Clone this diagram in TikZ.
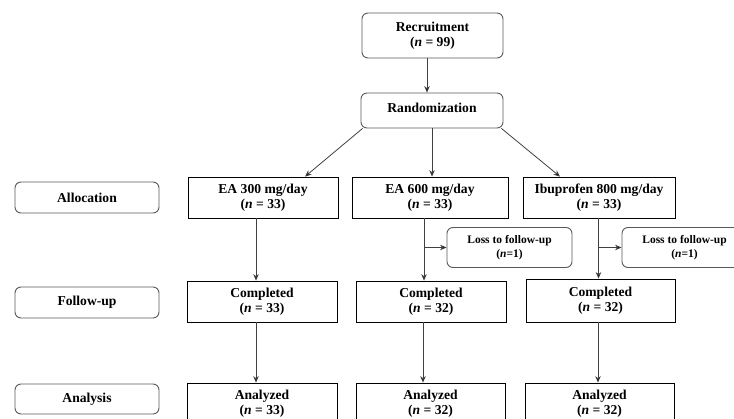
\documentclass[tikz,border=0pt]{standalone}
\usepackage{fontspec}
\setmainfont{Liberation Serif}
\usetikzlibrary{arrows.meta}
\tikzset{
  base/.style={draw, align=center, inner sep=0pt, font=\fontsize{13.6}{15.5}\selectfont\bfseries},
  rbox/.style={base, draw=black!65, rounded corners=6pt, line width=0.9pt},
  sbox/.style={base, draw=black, line width=0.8pt},
  lossbox/.style={rbox, font=\fontsize{11.5}{14}\selectfont\bfseries},
  arr/.style={draw=black!75, line width=0.8pt, -{Stealth[length=6.5pt,width=5.5pt,fill=black]}},
  ln/.style={draw=black!75, line width=0.8pt}
}
\newcommand{\nn}{\textit{n}}
\begin{document}
\begin{tikzpicture}[x=1pt,y=-1pt]
\useasboundingbox (0,0) rectangle (734,419);
% top
\node[rbox, minimum width=141pt, minimum height=45pt] (recr) at (432.5,35.5) {Recruitment\\(\nn{} = 99)};
\node[rbox, minimum width=142pt, minimum height=35pt] (rand) at (432,110.5) {\raisebox{5pt}{Randomization}};
% labels
\node[rbox, minimum width=144pt, minimum height=31pt] (alloc) at (87,197.5) {Allocation};
\node[rbox, minimum width=144pt, minimum height=31pt] (fup) at (87,302.5) {Follow-up};
\node[rbox, minimum width=144pt, minimum height=30pt] (anal) at (87,399) {Analysis};
% allocation
\node[sbox, minimum width=150pt, minimum height=41pt] (ea3) at (263,197.5) {EA 300 mg/day\\(\nn{} = 33)};
\node[sbox, minimum width=156pt, minimum height=41pt] (ea6) at (430,197.5) {EA 600 mg/day\\(\nn{} = 33)};
\node[sbox, minimum width=152pt, minimum height=41pt] (ibu) at (599,197.5) {Ibuprofen 800 mg/day\\(\nn{} = 33)};
% loss
\node[lossbox, minimum width=125pt, minimum height=40pt] (loss1) at (509.5,247.5) {Loss to follow-up\\(\nn{}=1)};
\node[lossbox, minimum width=125pt, minimum height=40pt] (loss2) at (684.5,247.5) {Loss to follow-up\\(\nn{}=1)};
% completed
\node[sbox, minimum width=150pt, minimum height=41pt] (c1) at (262,301.5) {Completed\\(\nn{} = 33)};
\node[sbox, minimum width=150pt, minimum height=41pt] (c2) at (431,301.5) {Completed\\(\nn{} = 32)};
\node[sbox, minimum width=149pt, minimum height=43pt] (c3) at (600.5,300.5) {Completed\\(\nn{} = 32)};
% analyzed
\node[sbox, minimum width=150pt, minimum height=41pt] (a1) at (262,403.5) {Analyzed\\(\nn{} = 33)};
\node[sbox, minimum width=149pt, minimum height=41pt] (a2) at (430.5,403.5) {Analyzed\\(\nn{} = 32)};
\node[sbox, minimum width=149pt, minimum height=41pt] (a3) at (599.5,403.5) {Analyzed\\(\nn{} = 32)};
% connectors
\draw[arr] ([xshift=-5.5pt]recr.south) -- ([xshift=-5.5pt]recr.south |- rand.north);
\draw[arr] ([xshift=2pt]rand.south west) -- ([xshift=42pt]ea3.north);
\draw[arr] (rand.south) -- (rand.south |- ea6.north);
\draw[arr] ([xshift=-2pt]rand.south east) -- ([xshift=-39pt]ibu.north);
% column 1
\draw[arr] ([xshift=-7pt]ea3.south) -- ([xshift=-7pt]ea3.south |- c1.north);
\draw[arr] ([xshift=-6pt]c1.south) -- ([xshift=-6pt]c1.south |- a1.north);
% column 2
\draw[arr] ([xshift=-6pt]ea6.south) -- ([xshift=-6pt]ea6.south |- c2.north);
\draw[arr] ([xshift=-6pt]ea6.south |- loss1.west) -- (loss1.west);
\draw[arr] ([xshift=-8pt]c2.south) -- ([xshift=-8pt]c2.south |- a2.north);
% column 3
\draw[arr] ([xshift=-0.5pt]ibu.south) -- ([xshift=-0.5pt]ibu.south |- c3.north);
\draw[arr] ([xshift=-0.5pt]ibu.south |- loss2.west) -- (loss2.west);
\draw[arr] ([xshift=-2.5pt]c3.south) -- ([xshift=-2.5pt]c3.south |- a3.north);
\end{tikzpicture}
\end{document}
